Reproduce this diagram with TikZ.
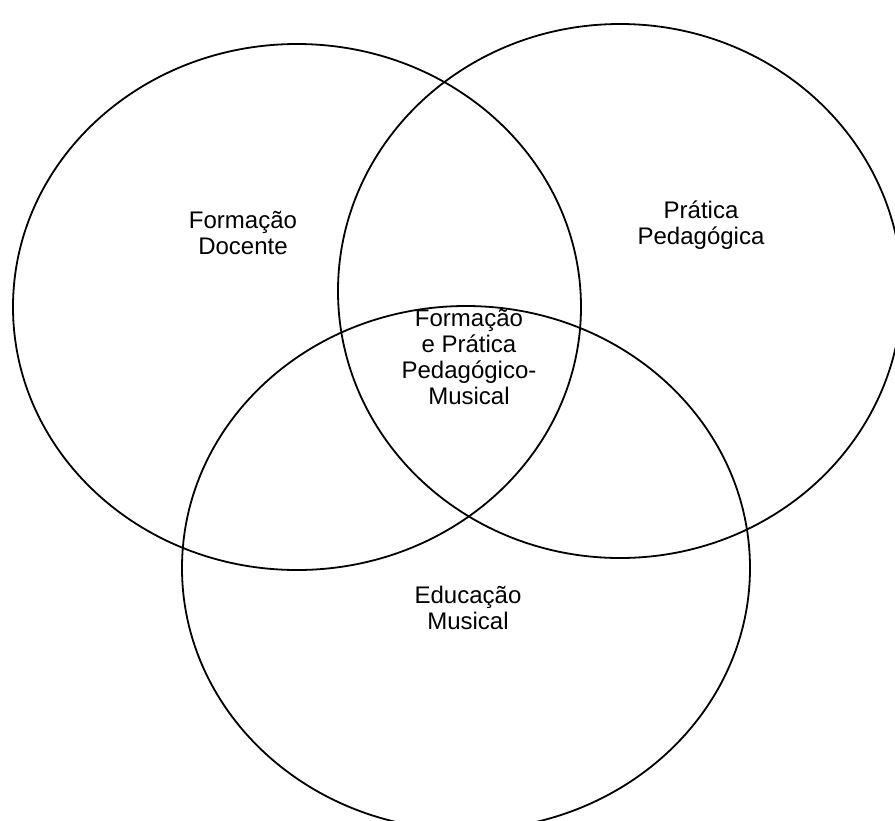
\documentclass[tikz,border=0pt]{standalone}
\usepackage{fontspec}
\setmainfont{Liberation Sans}
\begin{document}
\begin{tikzpicture}[x=1pt,y=-1pt,
  ring/.style={draw=black,line width=1.8pt},
  lbl/.style={align=center,font=\fontsize{24}{26}\selectfont,inner sep=0pt}]
\clip (0,0) rectangle (895,820);
\fill[white] (0,0) rectangle (895,820);
\draw[ring] (297,307) ellipse [x radius=284, y radius=263];
\draw[ring] (620,291) ellipse [x radius=282, y radius=267];
\draw[ring] (466,568) ellipse [x radius=284, y radius=262];
\node[lbl] (fd) at (243,233) {Formação\\Docente};
\node[lbl] (pp) at (701,225) {Prática\\Pedagógica};
\node[lbl] (fp) at (469,357) {Formação\\e Prática\\Pedagógico-\\Musical};
\node[lbl] (em) at (468,608) {Educação\\Musical};
\end{tikzpicture}
\end{document}
